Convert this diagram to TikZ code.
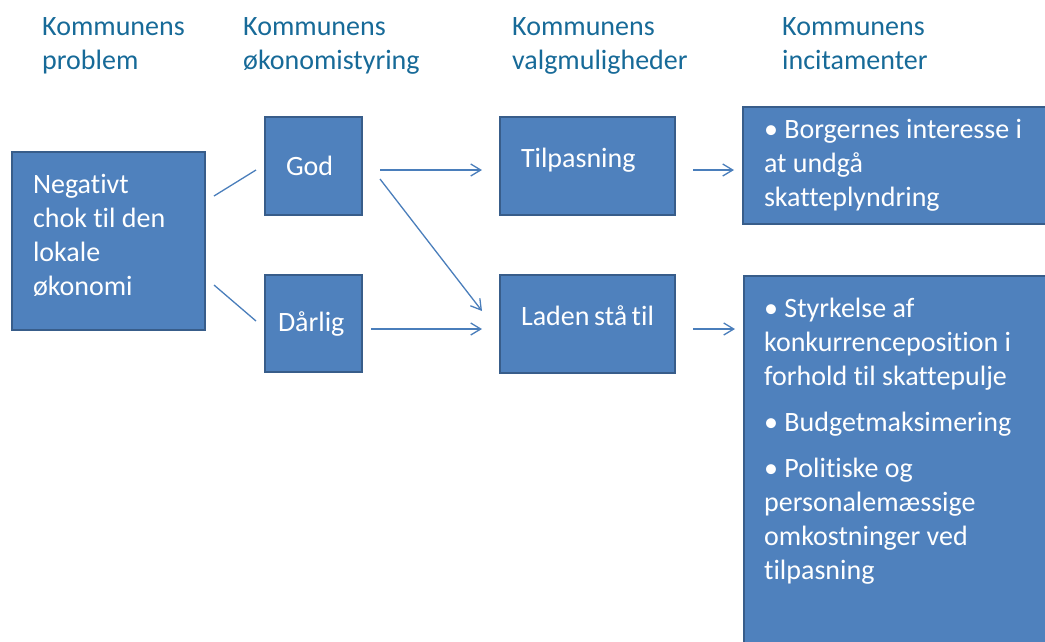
\documentclass[tikz,border=0pt]{standalone}
\usepackage{fontspec}
\setmainfont{Carlito}[Ligatures=NoCommon]
\usetikzlibrary{arrows.meta}
\definecolor{kassefyld}{RGB}{79,129,189}
\definecolor{kassekant}{RGB}{56,93,138}
\definecolor{pilfarve}{RGB}{74,126,187}
\definecolor{overskriftfarve}{RGB}{23,106,152}
\tikzset{
  kasse/.style={draw=kassekant, line width=2pt, fill=kassefyld, text=white,
    inner xsep=21pt, inner ysep=0pt, align=flush left},
  pil/.style={pilfarve, line width=1.3pt, -{Straight Barb[length=10pt,width=12pt]}},
  linje/.style={pilfarve, line width=1.3pt},
  overskrift/.style={text=overskriftfarve, anchor=base west, inner sep=0pt, align=flush left}
}
\begin{document}
\begin{tikzpicture}[x=1pt,y=-1pt,font=\fontsize{28}{34}\selectfont]
        \clip (0,0) rectangle (1045,641);
        %% Headings
        \node[overskrift] (h1) at (42,69) {Kommunens\\problem};
        \node[overskrift] (h2) at (243,69) {Kommunens\\økonomistyring};
        \node[overskrift] (h3) at (512,69) {Kommunens\\valgmuligheder};
        \node[overskrift] (h4) at (782,69) {Kommunens\\incitamenter};
        %% Boxes
        \node[kasse, text width=151pt, text depth=115pt, minimum height=178pt] (chok) at (108.5,241)
            {Negativt\\chok til den\\lokale\\økonomi};
        \node[kasse, text width=55pt, minimum height=98pt] (god) at (313.5,166) {God};
        \node[kasse, inner xsep=13pt, text width=71pt, minimum height=97pt] (darlig) at (313.5,323.5) {Dårlig};
        \node[kasse, text width=133pt, text depth=16pt, minimum height=98pt] (tilp) at (587.5,166) {Tilpasning};
        \node[kasse, text width=133pt, text depth=16pt, minimum height=98pt] (laden) at (587.5,324) {Laden~stå~til};
        \node[kasse, text width=265pt, minimum height=117pt] (borg) at (896.5,165.5)
            {• Borgernes~interesse~i\\at undgå\\skatteplyndring};
        \node[kasse, minimum width=307pt, minimum height=385pt, anchor=north west] (styrk) at (743,275) {};
        \node[text=white, inner sep=0pt, text width=265pt, align=flush left, anchor=base west] (styrktxt)
            at ([shift={(21pt,-42pt)}]styrk.north west)
            {• Styrkelse af\\konkurrenceposition i\\forhold til skattepulje\\[12pt]%
             • Budgetmaksimering\\[12pt]%
             • Politiske og\\personalemæssige\\omkostninger ved\\tilpasning};
        %% Connectors
        \draw[linje] ([shift={(8pt,45pt)}]chok.east) -- ([shift={(-8pt,-4pt)}]god.west);
        \draw[linje] ([shift={(8pt,-44pt)}]chok.east) -- ([shift={(-8pt,2.5pt)}]darlig.west);
        \draw[pil] ([shift={(17pt,-4pt)}]god.east) -- ([shift={(-17pt,-4pt)}]tilp.west);
        \draw[pil] ([shift={(17pt,-13pt)}]god.east) -- ([shift={(-17pt,13pt)}]laden.west);
        \draw[pil] ([shift={(8pt,-5.5pt)}]darlig.east) -- ([shift={(-17pt,-5pt)}]laden.west);
        \draw[pil] ([shift={(17pt,-4pt)}]tilp.east) -- ([shift={(-8pt,-4.5pt)}]borg.west);
        \draw[pil] ([shift={(17pt,-5pt)}]laden.east) -- ([shift={(-8pt,-54pt)}]styrk.north west);
\end{tikzpicture}
\end{document}
